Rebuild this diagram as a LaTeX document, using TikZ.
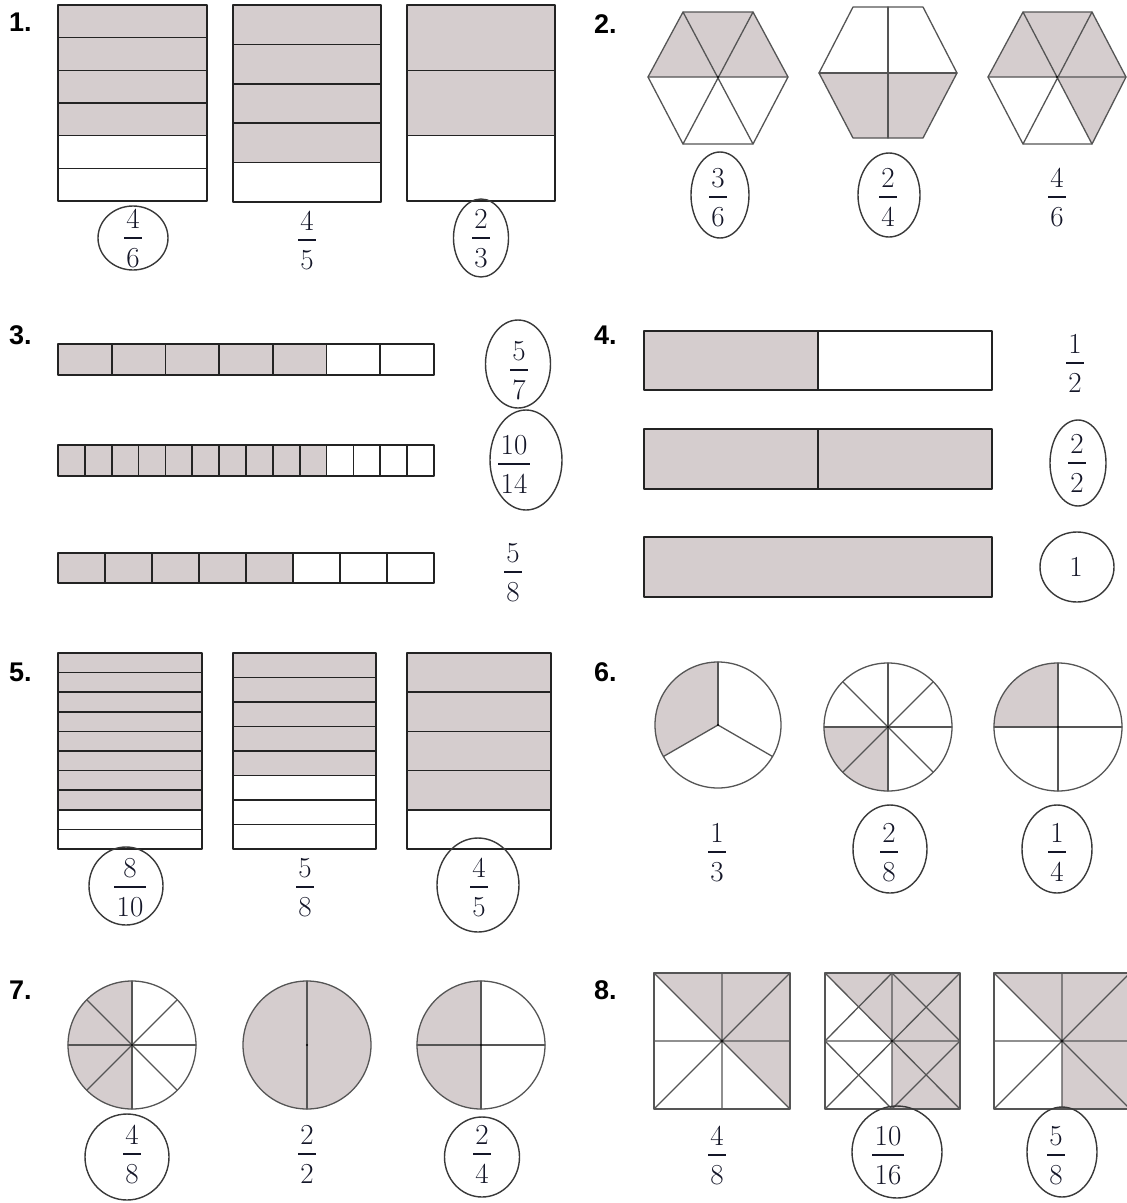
\documentclass[tikz,border=0pt]{standalone}
\usepackage{fontspec}
\usetikzlibrary{shapes.geometric}
\newfontfamily\labfont{Liberation Sans}
\definecolor{pinkgrey}{RGB}{213,205,206}
\definecolor{edge}{RGB}{35,35,35}
\definecolor{soft}{RGB}{85,85,85}
\definecolor{ink}{RGB}{20,22,40}
\tikzset{
  fractxt/.style={inner sep=0pt, text=ink, font=\fontsize{29}{31}\selectfont},
  barline/.style={draw=ink, line width=1.4pt},
  numlab/.style={inner sep=0pt, anchor=west, font=\labfont\bfseries\fontsize{27}{29}\selectfont},
  ringsty/.style={ellipse, draw=edge!90, line width=1.4pt, inner sep=0pt},
  boxedge/.style={draw=edge, line width=1.6pt, line join=round},
  softedge/.style={draw=soft, line width=1.3pt, line join=round, line cap=round}
}
% horizontal stripes: x1 y1 x2 y2 n k
\newcommand{\stripes}[6]{%
  \fill[pinkgrey] (#1,#2) rectangle (#3,{#2+(#4-#2)*#6/#5});
  \foreach \i in {1,...,#5}{\ifnum\i<#5 \draw[boxedge] (#1,{#2+(#4-#2)*\i/#5}) -- (#3,{#2+(#4-#2)*\i/#5});\fi}
  \draw[boxedge] (#1,#2) rectangle (#3,#4);}
% vertical cells: x1 y1 x2 y2 n k
\newcommand{\cells}[6]{%
  \fill[pinkgrey] (#1,#2) rectangle ({#1+(#3-#1)*#6/#5},#4);
  \foreach \i in {1,...,#5}{\ifnum\i<#5 \draw[boxedge] ({#1+(#3-#1)*\i/#5},#2) -- ({#1+(#3-#1)*\i/#5},#4);\fi}
  \draw[boxedge] (#1,#2) rectangle (#3,#4);}
% fraction: name x ybar num den halfwidth
\newcommand{\frc}[6]{%
  \node[fractxt] (#1n) at (#2,{#3-19}) {#4};
  \node[fractxt] (#1d) at (#2,{#3+20}) {#5};
  \draw[barline] ({#2-#6},#3) -- ({#2+#6},#3);}
% ellipse ring: name x y width height
\newcommand{\ring}[5]{\node[ringsty, minimum width=#4pt, minimum height=#5pt] (#1) at (#2,#3) {};}
% pie: cx cy r startshade endshade {line angles}
\newcommand{\pie}[6]{%
  \fill[pinkgrey] (#1,#2) -- ++(#4:#3pt) arc[start angle=#4, end angle=#5, radius=#3pt] -- cycle;
  \foreach \a in {#6}{\draw[softedge] (#1,#2) -- ++(\a:#3pt);}
  \draw[softedge] (#1,#2) circle[radius=#3pt];
  \fill[black] (#1,#2) circle[radius=1.2pt];}
\begin{document}
\begin{tikzpicture}[x=1pt,y=-1pt]
\useasboundingbox (0,0) rectangle (1127,1203);
\fill[white] (0,0) rectangle (1127,1203);

% problem labels
\node[numlab] (l1) at (9,22) {1.};
\node[numlab] (l2) at (594,24) {2.};
\node[numlab] (l3) at (9,335) {3.};
\node[numlab] (l4) at (594,335) {4.};
\node[numlab] (l5) at (9,672) {5.};
\node[numlab] (l6) at (594,672) {6.};
\node[numlab] (l7) at (9,990) {7.};
\node[numlab] (l8) at (594,990) {8.};

% ---------- 1 ----------
\stripes{58}{5}{207}{201}{6}{4}
\stripes{233}{5}{381}{202}{5}{4}
\stripes{407}{5}{555}{201}{3}{2}
\frc{fa}{133}{238}{4}{6}{9}
\ring{ra}{133}{238}{70}{64}
\frc{fb}{307}{240}{4}{5}{9}
\frc{fc}{481}{238}{2}{3}{9}
\ring{rc}{481}{238}{55}{78}

% ---------- 2 ----------
\fill[pinkgrey] (648,77) -- (683,12) -- (753,12) -- (788,77) -- cycle;
\draw[softedge] (648,77) -- (683,12) -- (753,12) -- (788,77) -- (753,144) -- (683,144) -- cycle;
\draw[softedge] (648,77) -- (788,77) (683,12) -- (753,144) (753,12) -- (683,144);
\fill[black] (718,77) circle[radius=1.2pt];

\fill[pinkgrey] (819,73) -- (957,73) -- (923,138) -- (853,138) -- cycle;
\draw[softedge] (853,7) -- (923,7) -- (957,73) -- (923,138) -- (853,138) -- (819,73) -- cycle;
\draw[softedge] (819,73) -- (957,73) (888,7) -- (888,138);

\fill[pinkgrey] (988,77) -- (1023,12) -- (1092,12) -- (1126,77) -- (1092,144) -- (1057,77) -- cycle;
\draw[softedge] (988,77) -- (1023,12) -- (1092,12) -- (1126,77) -- (1092,144) -- (1023,144) -- cycle;
\draw[softedge] (988,77) -- (1126,77) (1023,12) -- (1092,144) (1092,12) -- (1023,144);
\fill[black] (1057,77) circle[radius=1.2pt];

\frc{fd}{718}{197}{3}{6}{9}
\ring{rd}{720}{195}{58}{86}
\frc{fe}{888}{197}{2}{4}{9}
\ring{re}{889}{195}{62}{84}
\frc{ff}{1057}{197}{4}{6}{9}

% ---------- 3 ----------
\cells{58}{344}{434}{375}{7}{5}
\cells{58}{445}{434}{476}{14}{10}
\cells{58}{553}{434}{583}{8}{5}
\frc{fg}{519}{370}{5}{7}{9}
\ring{rg}{518}{364}{65}{88}
\frc{fh}{514}{464}{10}{14}{16}
\ring{rh}{526}{460}{72}{100}
\frc{fi}{513}{572}{5}{8}{9}

% ---------- 4 ----------
\cells{644}{331}{992}{390}{2}{1}
\cells{644}{429}{992}{489}{2}{2}
\cells{644}{537}{992}{597}{1}{1}
\frc{fj}{1075}{363}{1}{2}{9}
\frc{fk}{1077}{463}{2}{2}{9}
\ring{rk}{1078}{463}{56}{86}
\node[fractxt] (one) at (1076,567) {1};
\ring{rone}{1077}{567}{74}{70}

% ---------- 5 ----------
\stripes{58}{653}{202}{849}{10}{8}
\stripes{233}{653}{376}{849}{8}{5}
\stripes{407}{653}{551}{849}{5}{4}
\frc{fl}{130}{887}{8}{10}{16}
\ring{rl}{126}{886}{74}{78}
\frc{fm}{305}{887}{5}{8}{9}
\frc{fn}{479}{887}{4}{5}{9}
\ring{rn}{478}{885}{82}{94}

% ---------- 6 ----------
\pie{718}{725}{63}{90}{210}{90,210,330}
\pie{888}{727}{64}{180}{270}{0,45,90,135,180,225,270,315}
\pie{1058}{727}{64}{90}{180}{0,90,180,270}
\frc{fo}{717}{852}{1}{3}{9}
\frc{fp}{889}{852}{2}{8}{9}
\ring{rp}{890}{849}{74}{88}
\frc{fq}{1057}{852}{1}{4}{9}
\ring{rq}{1057}{849}{70}{88}

% ---------- 7 ----------
\pie{132}{1045}{64}{90}{270}{0,45,90,135,180,225,270,315}
\pie{307}{1045}{64}{0}{360}{90,270}
\pie{481}{1045}{64}{90}{270}{0,90,180,270}
\frc{fr}{132}{1154}{4}{8}{9}
\ring{rr}{127}{1157}{84}{86}
\frc{fs}{307}{1154}{2}{2}{9}
\frc{ft}{482}{1154}{2}{4}{9}
\ring{rt}{482}{1157}{75}{80}

% ---------- 8 ----------
\fill[pinkgrey] (654,973) -- (790,973) -- (790,1109) -- (722,1041) -- cycle;
\draw[softedge] (654,973) rectangle (790,1109);
\draw[softedge] (722,973) -- (722,1109) (654,1041) -- (790,1041) (654,973) -- (790,1109) (790,973) -- (654,1109);
\fill[black] (722,1041) circle[radius=1.2pt];

\fill[pinkgrey] (825,973) -- (960,973) -- (960,1109) -- (892,1109) -- (892,1041) -- (858.5,1007) -- cycle;
\draw[softedge] (825,973) rectangle (960,1109);
\draw[softedge] (892,973) -- (892,1109) (825,1041) -- (960,1041) (825,973) -- (960,1109) (960,973) -- (825,1109);
\draw[softedge] (892,973) -- (960,1041) -- (892,1109) -- (825,1041) -- cycle;
\fill[black] (892,1041) circle[radius=1.2pt];

\fill[pinkgrey] (994,973) -- (1130,973) -- (1130,1109) -- (1062,1109) -- (1062,1041) -- cycle;
\draw[softedge] (994,973) rectangle (1130,1109);
\draw[softedge] (1062,973) -- (1062,1109) (994,1041) -- (1130,1041) (994,973) -- (1130,1109) (1130,973) -- (994,1109);
\fill[black] (1062,1041) circle[radius=1.2pt];

\frc{fu}{717}{1155}{4}{8}{9}
\frc{fv}{888}{1155}{10}{16}{16}
\ring{rv}{897}{1152}{90}{92}
\frc{fw}{1056}{1155}{5}{8}{9}
\ring{rw}{1062}{1152}{70}{90}
\end{tikzpicture}
\end{document}
